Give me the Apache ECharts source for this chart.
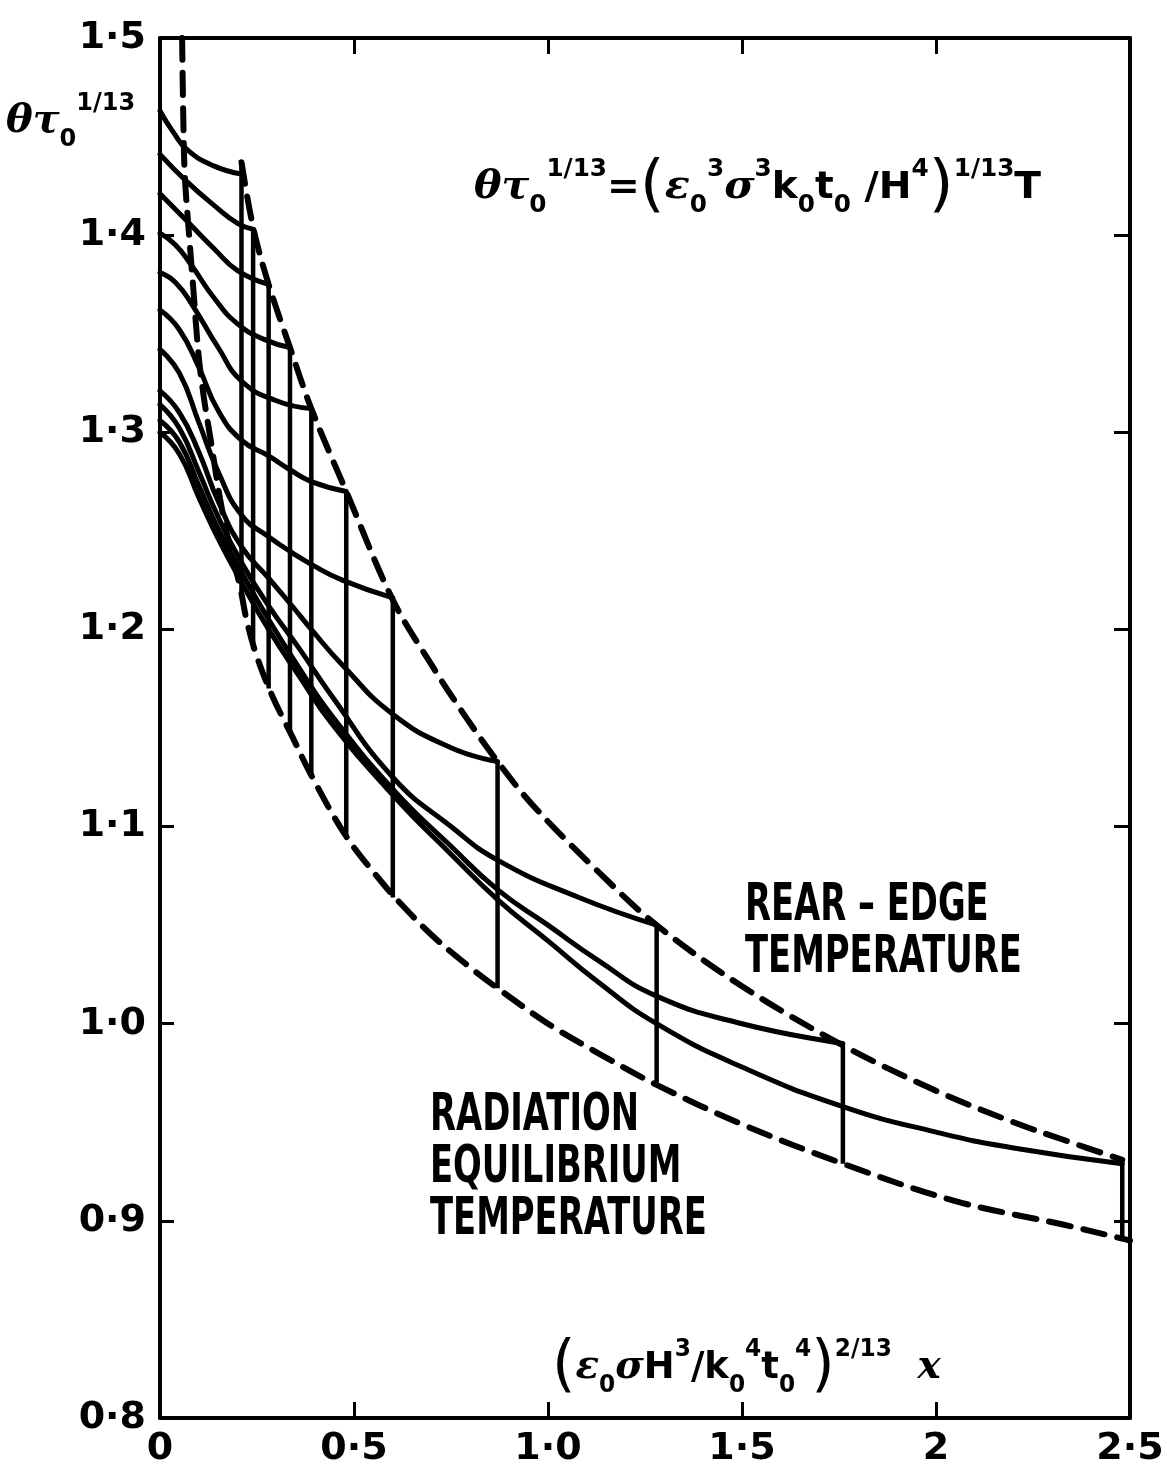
<!DOCTYPE html>
<html><head><meta charset="utf-8">
<script src="https://cdn.jsdelivr.net/npm/echarts@6/dist/echarts.min.js"></script>
<style>html,body{margin:0;padding:0;background:#fff}#c{width:1167px;height:1474px}</style>
</head><body><div id="c"></div>
<script>
// ---- tick labels ----
const xTickLabels = ['0', '0·5', '1·0', '1·5', '2', '2·5'];
const yTickLabels = ['0·8', '0·9', '1·0', '1·1', '1·2', '1·3', '1·4', '1·5'];

// ---- solid temperature curves (leading edge x=0 to rear edge) ----
const curveA_x = [0, 0.035, 0.072, 0.14, 0.21];
const curveA_y = [1.463, 1.452, 1.443, 1.435, 1.431];
const curveB_x = [0, 0.07, 0.14, 0.2, 0.24];
const curveB_y = [1.441, 1.427, 1.415, 1.406, 1.403];
const curveC_x = [0, 0.07, 0.14, 0.2, 0.28];
const curveC_y = [1.421, 1.407, 1.393, 1.382, 1.375];
const curveD_x = [0, 0.04, 0.08, 0.14, 0.2, 0.27, 0.335];
const curveD_y = [1.401, 1.395, 1.385, 1.368, 1.355, 1.347, 1.343];
const curveE_x = [0, 0.04, 0.085, 0.15, 0.21, 0.3, 0.39];
const curveE_y = [1.381, 1.376, 1.364, 1.343, 1.326, 1.316, 1.312];
const curveF_x = [0, 0.05, 0.1, 0.15, 0.21, 0.28, 0.335, 0.39, 0.48];
const curveF_y = [1.362, 1.352, 1.333, 1.311, 1.296, 1.288, 1.281, 1.275, 1.27];
const curveG_x = [0, 0.05, 0.1, 0.15, 0.21, 0.28, 0.34, 0.39, 0.47, 0.6];
const curveG_y = [1.342, 1.33, 1.305, 1.28, 1.258, 1.247, 1.239, 1.233, 1.225, 1.216];
const curveH_x = [0, 0.05, 0.1, 0.15, 0.21, 0.28, 0.34, 0.39, 0.47, 0.6, 0.75, 0.87];
const curveH_y = [1.321, 1.31, 1.29, 1.265, 1.242, 1.226, 1.212, 1.2, 1.182, 1.157, 1.14, 1.133];
const curveI_x = [0, 0.05, 0.1, 0.15, 0.21, 0.28, 0.36, 0.44, 0.6, 0.75, 0.87, 1.08, 1.28];
const curveI_y = [1.314, 1.302, 1.28, 1.257, 1.234, 1.212, 1.19, 1.167, 1.125, 1.1, 1.083, 1.064, 1.05];
const curveJ_x = [0, 0.05, 0.1, 0.15, 0.21, 0.28, 0.36, 0.44, 0.6, 0.75, 0.87, 1.0, 1.13, 1.28, 1.5, 1.76];
const curveJ_y = [1.306, 1.295, 1.273, 1.251, 1.229, 1.205, 1.18, 1.157, 1.119, 1.09, 1.068, 1.05, 1.032, 1.014, 1.0, 0.99];
const curveK_x = [0, 0.05, 0.1, 0.15, 0.21, 0.28, 0.36, 0.44, 0.6, 0.75, 0.87, 1.0, 1.13, 1.28, 1.5, 1.76, 2.0, 2.2, 2.48];
const curveK_y = [1.30, 1.289, 1.267, 1.246, 1.224, 1.2, 1.176, 1.153, 1.116, 1.086, 1.063, 1.042, 1.021, 1.0, 0.978, 0.958, 0.945, 0.937, 0.929];

// ---- rear edges: position, rear-edge temperature, radiation equilibrium temperature there ----
const edgeX       = [0.21, 0.24, 0.28, 0.335, 0.39, 0.48, 0.6, 0.87, 1.28, 1.76, 2.48];
const edgeTopT    = [1.437, 1.404, 1.375, 1.343, 1.312, 1.27, 1.216, 1.133, 1.05, 0.99, 0.93];
const edgeBottomT = [1.218, 1.19, 1.17, 1.148, 1.126, 1.095, 1.064, 1.018, 0.97, 0.929, 0.891];

// ---- rear-edge temperature curve (upper dashed) ----
const rearEdge_x = [0.21, 0.24, 0.28, 0.335, 0.39, 0.48, 0.6, 0.7, 0.79, 0.87, 0.96, 1.13, 1.28, 1.5, 1.76, 2.0, 2.2, 2.33, 2.48];
const rearEdge_y = [1.437, 1.404, 1.375, 1.343, 1.312, 1.27, 1.215, 1.182, 1.155, 1.133, 1.111, 1.077, 1.05, 1.019, 0.989, 0.966, 0.95, 0.941, 0.931];

// ---- radiation equilibrium temperature curve (lower dashed) ----
const radEq_x = [0.057, 0.06, 0.064, 0.075, 0.085, 0.1, 0.115, 0.13, 0.155, 0.18, 0.206, 0.224, 0.25, 0.29, 0.34, 0.39, 0.48, 0.575, 0.62, 0.7, 0.79, 0.87, 1.0, 1.13, 1.28, 1.5, 1.76, 2.05, 2.33, 2.48, 2.5];
const radEq_y = [1.5, 1.46, 1.43, 1.4, 1.375, 1.338, 1.315, 1.297, 1.266, 1.242, 1.222, 1.204, 1.186, 1.166, 1.146, 1.126, 1.095, 1.071, 1.061, 1.045, 1.03, 1.018, 1.0, 0.985, 0.969, 0.949, 0.929, 0.91, 0.898, 0.891, 0.89];

const curves = [
  [curveA_x, curveA_y], [curveB_x, curveB_y], [curveC_x, curveC_y], [curveD_x, curveD_y],
  [curveE_x, curveE_y], [curveF_x, curveF_y], [curveG_x, curveG_y], [curveH_x, curveH_y],
  [curveI_x, curveI_y], [curveJ_x, curveJ_y], [curveK_x, curveK_y]
];
const zip = (xs, ys) => xs.map((x, i) => [x, ys[i]]);

const series = [];
curves.forEach(([xs, ys]) => {
  series.push({
    type: 'line', data: zip(xs, ys), symbol: 'none', smooth: 0.5,
    lineStyle: { color: '#000', width: 5, cap: 'round', join: 'round' }, silent: true
  });
});
edgeX.forEach((x, i) => {
  series.push({
    type: 'line', data: [[x, edgeTopT[i]], [x, edgeBottomT[i]]], symbol: 'none',
    lineStyle: { color: '#000', width: 4.5 }, silent: true
  });
});
series.push({
  type: 'line', data: zip(rearEdge_x, rearEdge_y), symbol: 'none', smooth: 0.35,
  lineStyle: { color: '#000', width: 6, type: [22, 13], cap: 'round' }, silent: true
});
series.push({
  type: 'line', data: zip(radEq_x, radEq_y), symbol: 'none', smooth: 0.35,
  lineStyle: { color: '#000', width: 6, type: [22, 13], cap: 'round' }, silent: true
});

const F = '"DejaVu Sans", sans-serif';
const rich = {
  g: { fontSize: 40, fontStyle: 'italic', fontWeight: 'bold', fontFamily: '"DejaVu Serif", serif', lineHeight: 60, verticalAlign: 'middle', fill: '#000' },
  m: { fontSize: 38, fontWeight: 'bold', fontFamily: F, lineHeight: 60, verticalAlign: 'middle', fill: '#000' },
  p: { fontSize: 62, fontWeight: 'normal', fontFamily: F, lineHeight: 60, verticalAlign: 'middle', fill: '#000' },
  sub: { fontSize: 24, fontWeight: 'bold', fontFamily: F, lineHeight: 24, verticalAlign: 'bottom', fill: '#000' },
  sup: { fontSize: 24, fontWeight: 'bold', fontFamily: F, lineHeight: 24, verticalAlign: 'top', fill: '#000' }
};

const labelFont = 'bold 52px "DejaVu Sans", sans-serif';

const option = {
  backgroundColor: '#fff',
  animation: false,
  grid: { left: 160, right: 37, top: 38, bottom: 56, containLabel: false },
  xAxis: [
    { type: 'value', min: 0, max: 2.5, interval: 0.5, position: 'bottom',
      axisLine: { show: true, onZero: false, lineStyle: { color: '#000', width: 4 } },
      axisTick: { show: true, inside: true, length: 16, lineStyle: { color: '#000', width: 3 } },
      axisLabel: { show: true, margin: 12, color: '#000', fontSize: 38, fontWeight: 'bold', fontFamily: F,
        showMinLabel: true, showMaxLabel: true,
        formatter: v => xTickLabels[Math.round(v / 0.5)] },
      splitLine: { show: false } },
    { type: 'value', min: 0, max: 2.5, interval: 0.5, position: 'top',
      axisLine: { show: true, onZero: false, lineStyle: { color: '#000', width: 4 } },
      axisTick: { show: true, inside: true, length: 16, lineStyle: { color: '#000', width: 3 } },
      axisLabel: { show: false }, splitLine: { show: false } }
  ],
  yAxis: [
    { type: 'value', min: 0.8, max: 1.5, interval: 0.1, position: 'left',
      axisLine: { show: true, onZero: false, lineStyle: { color: '#000', width: 4 } },
      axisTick: { show: true, inside: true, length: 14, lineStyle: { color: '#000', width: 3 } },
      axisLabel: { show: true, margin: 14, color: '#000', fontSize: 38, fontWeight: 'bold', fontFamily: F,
        showMinLabel: true, showMaxLabel: true,
        formatter: v => yTickLabels[Math.round((v - 0.8) / 0.1)] },
      splitLine: { show: false } },
    { type: 'value', min: 0.8, max: 1.5, interval: 0.1, position: 'right',
      axisLine: { show: true, onZero: false, lineStyle: { color: '#000', width: 4 } },
      axisTick: { show: true, inside: true, length: 16, lineStyle: { color: '#000', width: 3 } },
      axisLabel: { show: false }, splitLine: { show: false } }
  ],
  series: series,
  graphic: [
    { type: 'text', x: 6, y: 92, silent: true,
      style: { text: '{g|θτ}{sub|0}{sup|1/13}', rich: rich, align: 'left', verticalAlign: 'top' } },
    { type: 'text', x: 474, y: 158, scaleX: 1.03, silent: true,
      style: { text: '{g|θτ}{sub|0}{sup|1/13}{m|=}{p|(}{g|ε}{sub|0}{sup|3}{g|σ}{sup|3}{m|k}{sub|0}{m|t}{sub|0}{m| /H}{sup|4}{p|)}{sup|1/13}{m|T}',
        rich: rich, align: 'left', verticalAlign: 'top' } },
    { type: 'text', x: 552, y: 1338, scaleX: 0.97, silent: true,
      style: { text: '{p|(}{g|ε}{sub|0}{g|σ}{m|H}{sup|3}{m|/k}{sub|0}{sup|4}{m|t}{sub|0}{sup|4}{p|)}{sup|2/13}{m|  }{g|x}',
        rich: rich, align: 'left', verticalAlign: 'top' } },
    { type: 'text', x: 745, y: 880, scaleX: 0.65, silent: true,
      style: { text: 'REAR – EDGE\nTEMPERATURE', font: labelFont, lineHeight: 52, fill: '#000', align: 'left', verticalAlign: 'top' } },
    { type: 'text', x: 430, y: 1090, scaleX: 0.65, silent: true,
      style: { text: 'RADIATION\nEQUILIBRIUM\nTEMPERATURE', font: labelFont, lineHeight: 52, fill: '#000', align: 'left', verticalAlign: 'top' } }
  ]
};

const chart = echarts.init(document.getElementById('c'), null, { renderer: 'canvas' });
chart.setOption(option);
</script></body></html>
